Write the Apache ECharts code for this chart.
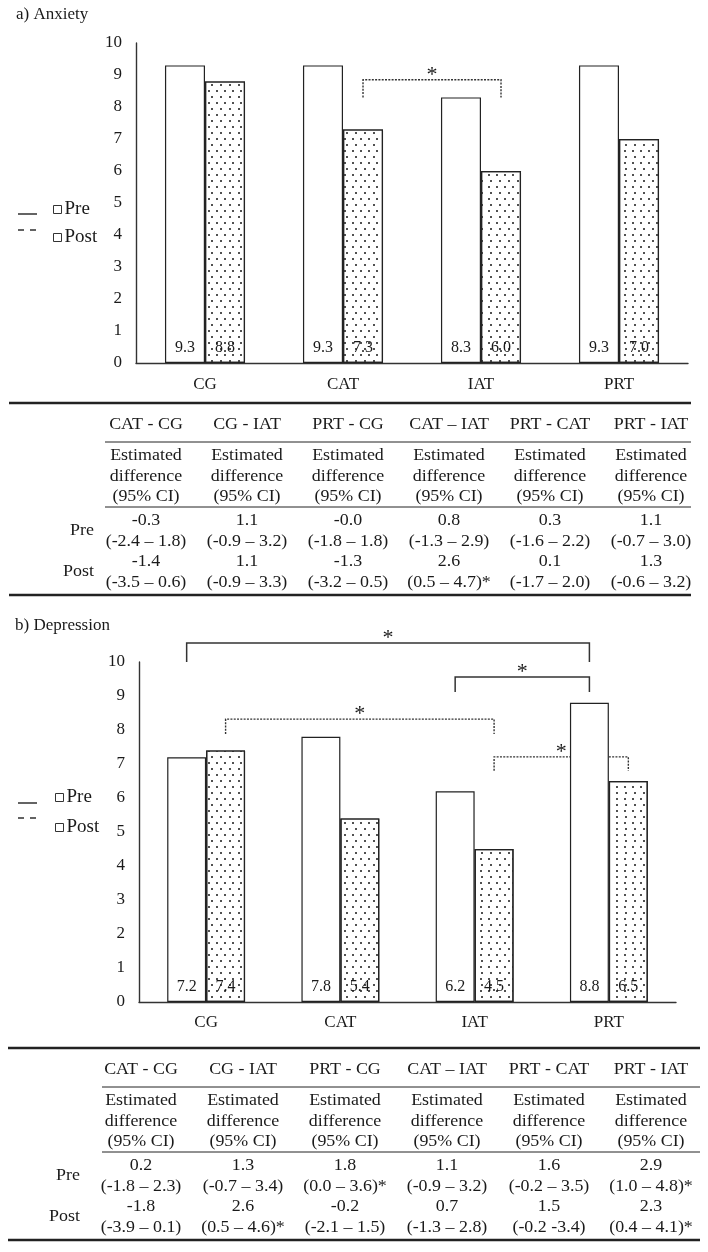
<!DOCTYPE html>
<html><head><meta charset="utf-8">
<script src="https://cdn.jsdelivr.net/npm/echarts@6/dist/echarts.min.js"></script>
<style>html,body{margin:0;padding:0;background:#fff}#c{width:708px;height:1252px}</style>
</head><body><div id="c"></div>
<script>
// ---------- data ----------
const categories = ['CG', 'CAT', 'IAT', 'PRT'];
const seriesNames = ['Pre', 'Post'];
const anxietyPre = [9.3, 9.3, 8.3, 9.3];
const anxietyPost = [8.8, 7.3, 6.0, 7.0];
const depressionPre = [7.2, 7.8, 6.2, 8.8];
const depressionPost = [7.4, 5.4, 4.5, 6.5];
// significance brackets: [fromCategory, toCategory, phase (0 Pre, 1 Post), bracket level, end level]
const anxietyBrackets = [[1, 2, 1, 8.85, 8.3]];
const depressionBrackets = [
  [0, 3, 0, 10.56, 10.0],
  [2, 3, 0, 9.56, 9.12],
  [0, 2, 1, 8.32, 7.88],
  [2, 3, 1, 7.21, 6.8]
];
const comparisons = ['CAT - CG', 'CG - IAT', 'PRT - CG', 'CAT \u2013 IAT', 'PRT - CAT', 'PRT - IAT'];
const headerLines = ['Estimated', 'difference', '(95% CI)'];
const rowLabels = ['Pre', 'Post'];
const anxietyPreDiff = ['-0.3', '1.1', '-0.0', '0.8', '0.3', '1.1'];
const anxietyPreCI = ['(-2.4 \u2013 1.8)', '(-0.9 \u2013 3.2)', '(-1.8 \u2013 1.8)', '(-1.3 \u2013 2.9)', '(-1.6 \u2013 2.2)', '(-0.7 \u2013 3.0)'];
const anxietyPostDiff = ['-1.4', '1.1', '-1.3', '2.6', '0.1', '1.3'];
const anxietyPostCI = ['(-3.5 \u2013 0.6)', '(-0.9 \u2013 3.3)', '(-3.2 \u2013 0.5)', '(0.5 \u2013 4.7)*', '(-1.7 \u2013 2.0)', '(-0.6 \u2013 3.2)'];
const depressionPreDiff = ['0.2', '1.3', '1.8', '1.1', '1.6', '2.9'];
const depressionPreCI = ['(-1.8 \u2013 2.3)', '(-0.7 \u2013 3.4)', '(0.0 \u2013 3.6)*', '(-0.9 \u2013 3.2)', '(-0.2 \u2013 3.5)', '(1.0 \u2013 4.8)*'];
const depressionPostDiff = ['-1.8', '2.6', '-0.2', '0.7', '1.5', '2.3'];
const depressionPostCI = ['(-3.9 \u2013 0.1)', '(0.5 \u2013 4.6)*', '(-2.1 \u2013 1.5)', '(-1.3 \u2013 2.8)', '(-0.2 -3.4)', '(0.4 \u2013 4.1)*'];

// ---------- style / layout ----------
const FF = '"Liberation Serif", "Times New Roman", serif';
const TXT = '#1a1a1a';
const CAT_GAP = 0.42;
const BAR_OFF = (1 - CAT_GAP) / 4;
const TABLE_SX = 1.12;

const dotDecal = {
  symbol: 'rect', symbolSize: 1, color: 'rgba(50,50,50,0.85)',
  dashArrayX: [[1.2, 5.8], [0, 3.5, 1.2, 2.3]],
  dashArrayY: [1.2, 3.8]
};

function barSeries(name, data, idx, isPost) {
  return {
    type: 'bar', name: name, data: data, xAxisIndex: idx, yAxisIndex: idx,
    barGap: '0%', barCategoryGap: (CAT_GAP * 100) + '%',
    itemStyle: Object.assign({ color: '#fff', borderColor: '#222', borderWidth: 1.2 }, isPost ? { decal: dotDecal } : {}),
    label: {
      show: true, position: 'insideBottom', distance: 7,
      formatter: p => p.value.toFixed(1),
      fontFamily: FF, fontSize: 16, color: TXT
    },
    emphasis: { disabled: true }
  };
}

function bracketSeries(data, idx) {
  return {
    type: 'custom', name: 'sig' + idx, xAxisIndex: idx, yAxisIndex: idx,
    data: data, encode: { x: 0, y: 3 }, clip: false, silent: true,
    renderItem: function (params, api) {
      const band = api.size([1, 0])[0];
      const phase = api.value(2);
      const off = (phase === 1 ? 1 : -1) * band * BAR_OFF;
      const x1 = api.coord([api.value(0), 0])[0] + off;
      const x2 = api.coord([api.value(1), 0])[0] + off;
      const yTop = api.coord([0, api.value(3)])[1];
      const yEnd = api.coord([0, api.value(4)])[1];
      return {
        type: 'group', children: [
          { type: 'polyline', shape: { points: [[x1, yEnd], [x1, yTop], [x2, yTop], [x2, yEnd]] },
            style: { stroke: '#333', fill: null, lineWidth: phase === 1 ? 1.4 : 1.5, lineDash: phase === 1 ? [2, 1.3] : null } },
          { type: 'text', style: { text: '*', x: (x1 + x2) / 2, y: yTop - 5, font: '22px ' + FF, fill: TXT,
            align: 'center', verticalAlign: 'middle', textAlign: 'center', textVerticalAlign: 'middle' } }
        ]
      };
    }
  };
}

function axisPair(idx) {
  return {
    x: { type: 'category', gridIndex: idx, data: categories,
      axisLine: { lineStyle: { color: '#333', width: 1.4 } }, axisTick: { show: false },
      axisLabel: { fontFamily: FF, fontSize: 17, color: TXT, margin: idx === 0 ? 13 : 12 } },
    y: { type: 'value', gridIndex: idx, min: 0, max: 10, interval: 1,
      axisLine: { show: true, lineStyle: { color: '#333', width: 1.4 } }, axisTick: { show: false },
      splitLine: { show: false },
      axisLabel: { fontFamily: FF, fontSize: 17, color: TXT, margin: 14 } }
  };
}

function txt(text, x, y, align) {
  return { type: 'text', silent: true, x: x, y: y, scaleX: TABLE_SX,
    style: { text: text, x: 0, y: 0, font: '16px ' + FF, fill: TXT,
    align: align || 'center', verticalAlign: 'middle', textAlign: align || 'center', textVerticalAlign: 'middle' } };
}
function hline(x1, x2, y, w) {
  return { type: 'line', silent: true, shape: { x1: x1, y1: y, x2: x2, y2: y }, style: { stroke: '#222', lineWidth: w } };
}

function buildTable(L, preDiff, preCI, postDiff, postCI) {
  const els = [];
  const t = L.top;
  els.push(hline(L.left, L.right, t, 2.4));
  els.push(hline(L.thinLeft, L.right, t + 39, 1));
  els.push(hline(L.thinLeft, L.right, t + 104, 1));
  els.push(hline(L.left, L.right, t + 192, 2.4));
  comparisons.forEach((c, i) => {
    const x = L.col0 + i * L.step;
    els.push(txt(c, x, t + 22));
    headerLines.forEach((h, k) => els.push(txt(h, x, t + 53 + k * 20.5)));
    els.push(txt(preDiff[i], x, t + 118));
    els.push(txt(preCI[i], x, t + 139));
    els.push(txt(postDiff[i], x, t + 159));
    els.push(txt(postCI[i], x, t + 180));
  });
  els.push(txt(rowLabels[0], L.labelRight, t + 128, 'right'));
  els.push(txt(rowLabels[1], L.labelRight, t + 169, 'right'));
  return els;
}

function legendMarks(x1, x2, ySolid, yDash) {
  return [
    { type: 'line', silent: true, shape: { x1: x1, y1: ySolid, x2: x2, y2: ySolid }, style: { stroke: '#222', lineWidth: 1.4 } },
    { type: 'line', silent: true, shape: { x1: x1, y1: yDash, x2: x2, y2: yDash }, style: { stroke: '#222', lineWidth: 1.4, lineDash: [6, 6] } }
  ];
}

const a0 = axisPair(0), a1 = axisPair(1);
const legendBase = {
  orient: 'vertical', data: seriesNames, selectedMode: false, icon: 'rect',
  itemWidth: 8, itemHeight: 8, padding: 0,
  itemStyle: { color: '#fff', borderColor: '#333', borderWidth: 1, decal: 'none' },
  textStyle: { fontFamily: FF, fontSize: 19, color: TXT, padding: [0, 0, 0, -2] }
};

const chart = echarts.init(document.getElementById('c'), null, { renderer: 'canvas' });
chart.setOption({
  animation: false,
  backgroundColor: '#fff',
  title: [
    { text: 'a) Anxiety', left: 16, top: 6, padding: 0, textStyle: { fontFamily: FF, fontSize: 17, fontWeight: 'normal', color: TXT } },
    { text: 'b) Depression', left: 15, top: 617, padding: 0, textStyle: { fontFamily: FF, fontSize: 17, fontWeight: 'normal', color: TXT } }
  ],
  legend: [
    Object.assign({}, legendBase, { left: 53, top: 200, itemGap: 9 }),
    Object.assign({}, legendBase, { left: 55, top: 788, itemGap: 11 })
  ],
  grid: [
    { left: 136, top: 43, width: 552, height: 320 },
    { left: 139, top: 662, width: 537, height: 340 }
  ],
  xAxis: [a0.x, a1.x],
  yAxis: [a0.y, a1.y],
  series: [
    barSeries('Pre', anxietyPre, 0, false),
    barSeries('Post', anxietyPost, 0, true),
    barSeries('Pre', depressionPre, 1, false),
    barSeries('Post', depressionPost, 1, true),
    bracketSeries(anxietyBrackets, 0),
    bracketSeries(depressionBrackets, 1)
  ],
  graphic: { elements: [].concat(
    legendMarks(18, 37, 214, 230),
    legendMarks(18, 37, 803, 818),
    buildTable({ top: 403, left: 9, right: 691, thinLeft: 105, col0: 146, step: 101, labelRight: 94 },
      anxietyPreDiff, anxietyPreCI, anxietyPostDiff, anxietyPostCI),
    buildTable({ top: 1048, left: 8, right: 700, thinLeft: 102, col0: 141, step: 102, labelRight: 80 },
      depressionPreDiff, depressionPreCI, depressionPostDiff, depressionPostCI)
  ) }
});
</script>
</body></html>
